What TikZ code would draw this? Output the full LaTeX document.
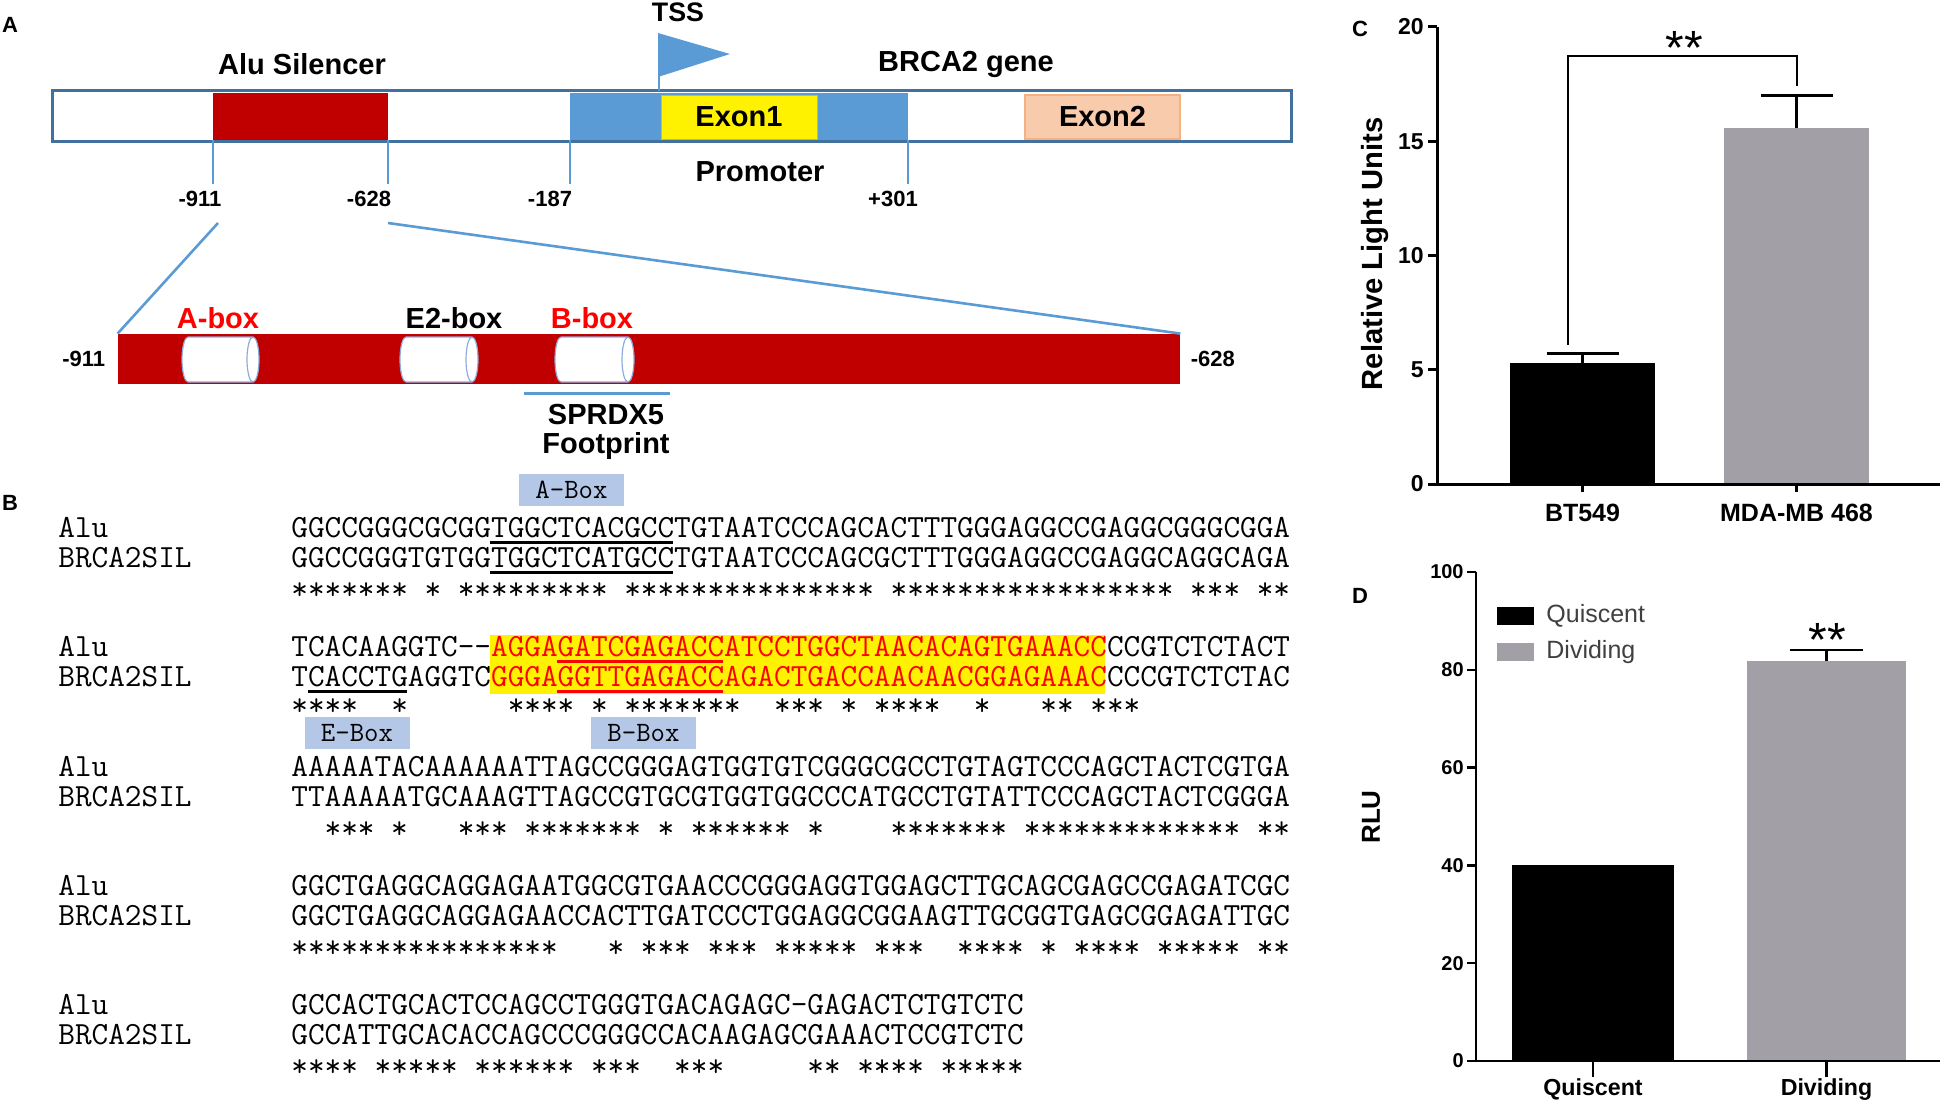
\documentclass[tikz,border=0pt]{standalone}
\usepackage{fontspec}
\setmainfont{Liberation Sans}
\usetikzlibrary{positioning}
\definecolor{geneframe}{HTML}{41719C}
\definecolor{promblue}{HTML}{5B9BD5}
\definecolor{alured}{HTML}{C00000}
\definecolor{exonpeach}{HTML}{F8CBAD}
\definecolor{exonedge}{HTML}{F4B183}
\definecolor{boxblue}{HTML}{B4C7E7}
\definecolor{cylline}{HTML}{8FAADC}
\definecolor{bargray}{HTML}{A29FA6}
\definecolor{seqred}{HTML}{FF0000}
\definecolor{legendtext}{HTML}{404040}

\newcommand{\seqfont}{\ttfamily\fontsize{16.16pt}{18pt}\selectfont}
\newcommand{\cw}{16.62}
% white cylinder inside the silencer bar, from left edge #1 to right edge #2
\newcommand{\cylbox}[2]{%
  \fill[white] (#1+6,-337) -- (#2-6,-337) arc[start angle=90,end angle=-90,x radius=6,y radius=22.5]
    -- (#1+6,-382) arc[start angle=270,end angle=90,x radius=6,y radius=22.5] -- cycle;
  \draw[draw=cylline, line width=0.6pt] (#1+6,-337) -- (#2-6,-337) (#1+6,-382) -- (#2-6,-382)
    (#1+6,-337) arc[start angle=90,end angle=270,x radius=6,y radius=22.5]
    (#2-6,-359.5) ellipse[x radius=6,y radius=22.5];
}

\begin{document}
\begin{tikzpicture}[
    x=0.5pt, y=0.5pt,
    lbl/.style={font=\bfseries\fontsize{14.5pt}{14.5pt}\selectfont, inner sep=0pt},
    panel/.style={font=\bfseries\fontsize{11pt}{13pt}\selectfont, inner sep=0pt},
    numlbl/.style={font=\bfseries\fontsize{11pt}{13pt}\selectfont, inner sep=0pt},
    seq/.style={font=\seqfont, inner sep=0pt, anchor=base west},
    boxlbl/.style={fill=boxblue, font=\ttfamily\fontsize{14pt}{16pt}\selectfont, minimum width=52.5pt, minimum height=16pt, inner sep=0pt},
    posline/.style={draw=promblue, line width=1pt},
    zoomline/.style={draw=promblue, line width=1.3pt},
    uline/.style={line width=1.4pt},
    axisline/.style={line width=1.5pt},
    ticklbl/.style={font=\bfseries\fontsize{11.5pt}{13pt}\selectfont, inner sep=0pt, anchor=east},
    dticklbl/.style={font=\bfseries\fontsize{10pt}{12pt}\selectfont, inner sep=0pt, anchor=east},
    xlbl/.style={font=\bfseries\fontsize{12.5pt}{14pt}\selectfont, inner sep=0pt, anchor=north, yshift=-10pt},
    starlbl/.style={font=\fontsize{24pt}{24pt}\selectfont, inner sep=0pt, anchor=base},
    legendlbl/.style={font=\fontsize{12.5pt}{14pt}\selectfont, text=legendtext, inner sep=0pt, anchor=west}
]
\useasboundingbox (0,0) rectangle (1946,-1102);

% panel A: gene map
\node[panel] (pa) at (10,-25) {A};
\node[draw=geneframe, fill=white, line width=1.5pt, minimum width=619.5pt, minimum height=25pt, inner sep=0pt] (gene) at (671.5,-116) {};
\node[fill=alured, minimum width=87.5pt, minimum height=23.5pt, inner sep=0pt] (alu) at (300.5,-116.5) {};
\node[fill=promblue, minimum width=169pt, minimum height=23.5pt, inner sep=0pt] (prom) at (739,-116.5) {};
\node[lbl, fill=yellow, draw=black!25!yellow, line width=0.4pt, minimum width=78pt, minimum height=22pt] (exon1) at (739,-117) {Exon1};
\node[lbl, fill=exonpeach, draw=exonedge, line width=0.6pt, minimum width=77.5pt, minimum height=22pt] (exon2) at (1102.5,-117) {Exon2};

\draw[draw=promblue, line width=0.8pt] (659,-91) -- (659,-72);
\fill[promblue] (658,-33) -- (730,-54) -- (658,-77) -- cycle;
\node[lbl, font=\bfseries\fontsize{13.4pt}{14pt}\selectfont] (tss) at (678,-12) {TSS};
\node[lbl] (alulbl) at (302,-64) {Alu Silencer};
\node[lbl] (genelbl) at (966,-64) {BRCA2 gene};
\node[lbl] (promlbl) at (760,-172) {Promoter};

\draw[posline] (alu.south west) -- ++(0,-44);
\draw[posline] (alu.south east) -- ++(0,-44);
\draw[posline] (prom.south west) -- ++(0,-44);
\draw[posline] (prom.south east) -- ++(0,-44);
\node[numlbl] (m911) at (200,-199) {-911};
\node[numlbl] (m628) at (369,-199) {-628};
\node[numlbl] (m187) at (550,-199) {-187};
\node[numlbl] (p301) at (893,-199) {+301};

% expanded silencer
\node[fill=alured, minimum width=531pt, minimum height=25pt, inner sep=0pt] (sil) at (649,-359) {};
\coordinate (zl) at (218,-223);
\coordinate (zr) at (388,-223);
\draw[zoomline] (zl) -- (sil.north west);
\draw[zoomline] (zr) -- (sil.north east);
\node[numlbl, left=6pt of sil] (s911) {-911};
\node[numlbl, right=5pt of sil] (s628) {-628};
\cylbox{182}{259}
\cylbox{400}{478}
\cylbox{555}{634}
\node[lbl, text=seqred] (abl) at (218,-318) {A-box};
\node[lbl] (e2bl) at (454,-318) {E2-box};
\node[lbl, text=seqred] (bbl) at (592,-318) {B-box};
\coordinate (fpl) at (524,-393);
\coordinate (fpr) at (670,-393);
\draw[zoomline, line width=1.5pt] (fpl) -- (fpr);
\node[lbl, align=center] (fp) at (606,-432) {SPRDX5\\Footprint};

% panel B: alignment
\node[panel] (pb) at (10,-503) {B};
\node[boxlbl] (abox) at (571.5,-490) {A-Box};

\node[seq] (aluname1) at (58,-537) {Alu};
\node[seq] (brcaname1) at (58,-567) {BRCA2SIL};
\node[seq] (aluseq1) at (291,-537) {GGCCGGGCGCGGTGGCTCACGCCTGTAATCCCAGCACTTTGGGAGGCCGAGGCGGGCGGA};
\node[seq] (brcaseq1) at (291,-567) {GGCCGGGTGTGGTGGCTCATGCCTGTAATCCCAGCGCTTTGGGAGGCCGAGGCAGGCAGA};
\node[seq] (stars1) at (291,-599) {*******~*~*********~***************~*****************~***~**};
\draw[uline] ({291+12*\cw},-542.5) -- ({291+23*\cw},-542.5);
\draw[uline] ({291+12*\cw},-572.5) -- ({291+23*\cw},-572.5);

\fill[yellow] ({291+12*\cw},-635) rectangle ({291+49*\cw},-694);
\node[seq] (aluname2) at (58,-656) {Alu};
\node[seq] (brcaname2) at (58,-686) {BRCA2SIL};
\node[seq] (aluseq2) at (291,-656) {TCACAAGGTC-\kern0pt-\textcolor{seqred}{AGGAGATCGAGACCATCCTGGCTAACACAGTGAAACC}CCGTCTCTACT};
\node[seq] (brcaseq2) at (291,-686) {TCACCTGAGGTC\textcolor{seqred}{GGGAGGTTGAGACCAGACTGACCAACAACGGAGAAAC}CCCGTCTCTAC};
\node[seq] (stars2) at (291,-715) {****~~*~~~~~~****~*~*******~~***~*~****~~*~~~**~***};
\draw[uline, seqred] ({291+16*\cw},-661.5) -- ({291+26*\cw},-661.5);
\draw[uline, seqred] ({291+16*\cw},-691.5) -- ({291+26*\cw},-691.5);
\draw[uline] ({291+1*\cw},-691.5) -- ({291+7*\cw},-691.5);
\node[boxlbl] (ebox) at (357,-733) {E-Box};
\node[boxlbl] (bbox) at (643.5,-733) {B-Box};

\node[seq] (aluname3) at (58,-776) {Alu};
\node[seq] (brcaname3) at (58,-806) {BRCA2SIL};
\node[seq] (aluseq3) at (291,-776) {AAAAATACAAAAAATTAGCCGGGAGTGGTGTCGGGCGCCTGTAGTCCCAGCTACTCGTGA};
\node[seq] (brcaseq3) at (291,-806) {TTAAAAATGCAAAGTTAGCCGTGCGTGGTGGCCCATGCCTGTATTCCCAGCTACTCGGGA};
\node[seq] (stars3) at (291,-838) {~~***~*~~~***~*******~*~******~*~~~~*******~*************~**};

\node[seq] (aluname4) at (58,-895) {Alu};
\node[seq] (brcaname4) at (58,-925) {BRCA2SIL};
\node[seq] (aluseq4) at (291,-895) {GGCTGAGGCAGGAGAATGGCGTGAACCCGGGAGGTGGAGCTTGCAGCGAGCCGAGATCGC};
\node[seq] (brcaseq4) at (291,-925) {GGCTGAGGCAGGAGAACCACTTGATCCCTGGAGGCGGAAGTTGCGGTGAGCGGAGATTGC};
\node[seq] (stars4) at (291,-957) {****************~~~*~***~***~*****~***~~****~*~****~*****~**};

\node[seq] (aluname5) at (58,-1014) {Alu};
\node[seq] (brcaname5) at (58,-1044) {BRCA2SIL};
\node[seq] (aluseq5) at (291,-1014) {GCCACTGCACTCCAGCCTGGGTGACAGAGC-GAGACTCTGTCTC};
\node[seq] (brcaseq5) at (291,-1044) {GCCATTGCACACCAGCCCGGGCCACAAGAGCGAAACTCCGTCTC};
\node[seq] (stars5) at (291,-1076) {****~*****~******~***~~***~~~~~**~****~*****};

% panel C: luciferase, two cell lines
\node[panel] (pc) at (1360,-29) {C};
\begin{scope}[shift={(1437,-484)}, y=11.425pt]
  \fill[black] (73,0) rectangle (218,5.3);
  \fill[bargray] (287,0) rectangle (432,15.6);
  \draw[axisline] (145.5,5.3) -- (145.5,5.7) (109.5,5.7) -- (181.5,5.7);
  \draw[axisline] (359.5,15.6) -- (359.5,17) (323.5,17) -- (395.5,17);
  \draw[axisline] (0,20) -- (0,0) -- (503,0);
  \draw[axisline] (-9,0) -- (0,0) (-9,5) -- (0,5) (-9,10) -- (0,10) (-9,15) -- (0,15) (-9,20) -- (0,20);
  \draw[axisline] (145.5,0) -- (145.5,-0.35) (359.5,0) -- (359.5,-0.35);
  \node[ticklbl] (c0) at (-13,0) {0};
  \node[ticklbl] (c5) at (-13,5) {5};
  \node[ticklbl] (c10) at (-13,10) {10};
  \node[ticklbl] (c15) at (-13,15) {15};
  \node[ticklbl] (c20) at (-13,20) {20};
  \draw[line width=1.2pt] (131,6.1) -- (131,18.73) -- (360,18.73) -- (360,17.4);
  \node[starlbl] (csig) at (247,18.36) {**};
  \node[xlbl] (cbt) at (145.5,0) {BT549};
  \node[xlbl] (cmda) at (359.5,0) {MDA-MB 468};
  \node[font=\bfseries\fontsize{14.6pt}{16pt}\selectfont, rotate=90, inner sep=0pt] (cylab) at (-62,10.07) {Relative Light Units};
\end{scope}

% panel D: quiescent vs dividing
\node[panel] (pd) at (1360,-596) {D};
\begin{scope}[shift={(1476,-1061)}, y=2.445pt]
  \fill[black] (36,0) rectangle (198,40);
  \fill[bargray] (271,0) rectangle (430,81.8);
  \draw[line width=1.25pt] (350.5,81.8) -- (350.5,84) (314,84) -- (387,84);
  \draw[line width=1.25pt] (0,100) -- (0,0) -- (464,0);
  \draw[line width=1.25pt] (-9,0) -- (0,0) (-9,20) -- (0,20) (-9,40) -- (0,40) (-9,60) -- (0,60) (-9,80) -- (0,80) (-9,100) -- (0,100);
  \draw[line width=1.25pt] (117,0) -- (117,-3.3) (350.5,0) -- (350.5,-3.3);
  \node[dticklbl] (d0) at (-12,0) {0};
  \node[dticklbl] (d20) at (-12,20) {20};
  \node[dticklbl] (d40) at (-12,40) {40};
  \node[dticklbl] (d60) at (-12,60) {60};
  \node[dticklbl] (d80) at (-12,80) {80};
  \node[dticklbl] (d100) at (-12,100) {100};
  \fill[black] (21,89.16) rectangle (58,92.84);
  \fill[bargray] (21,81.8) rectangle (58,85.48);
  \node[legendlbl] (lq) at (70,91) {Quiscent};
  \node[legendlbl] (ld) at (70,83.6) {Dividing};
  \node[starlbl] (dsig) at (351,82.7) {**};
  \node[xlbl, font=\bfseries\fontsize{11.6pt}{13pt}\selectfont, yshift=1.5pt] (dq) at (117,0) {Quiscent};
  \node[xlbl, font=\bfseries\fontsize{11.6pt}{13pt}\selectfont, yshift=1.5pt] (dd) at (350.5,0) {Dividing};
  \node[font=\bfseries\fontsize{13pt}{15pt}\selectfont, rotate=90, inner sep=0pt] (dylab) at (-105,49.9) {RLU};
\end{scope}
\end{tikzpicture}
\end{document}
